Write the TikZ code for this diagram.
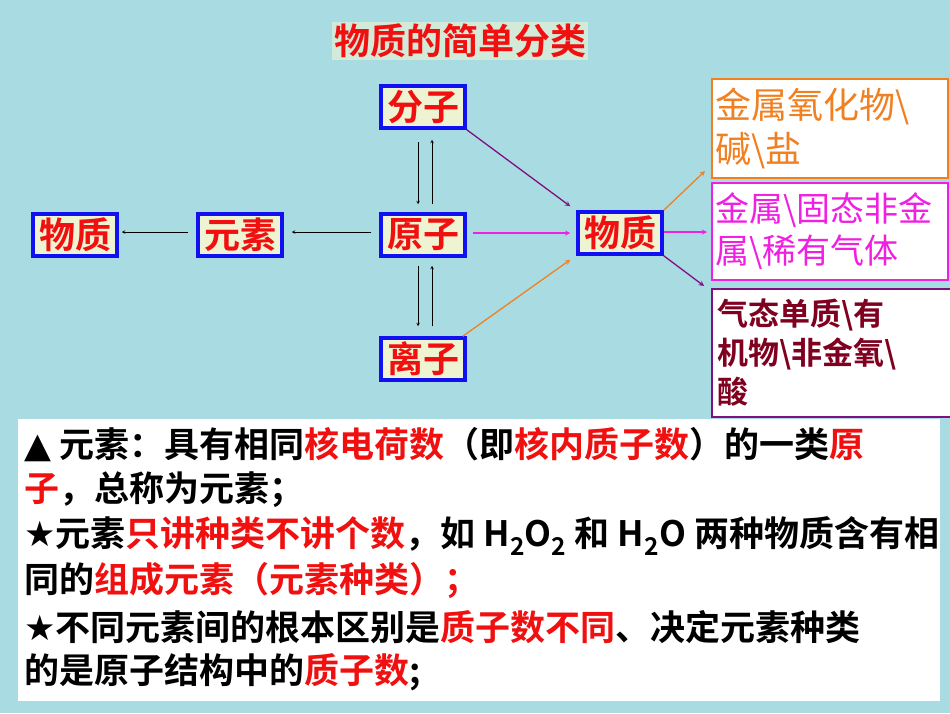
\documentclass[tikz,border=0pt]{standalone}
\usepackage{fontspec}
\newfontfamily\cjk{Noto Sans CJK SC}[BoldFont={Noto Sans CJK SC Bold}]
\newfontfamily\dv{DejaVu Sans}
\definecolor{bgc}{HTML}{A9DCE2}
\definecolor{boxf}{HTML}{EEF3D2}
\definecolor{bblue}{HTML}{1010F0}
\definecolor{tred}{HTML}{F01010}
\definecolor{orng}{HTML}{F08020}
\definecolor{mag}{HTML}{F020E0}
\definecolor{purp}{HTML}{801080}
\definecolor{dred}{HTML}{800020}
\begin{document}
\begin{tikzpicture}[x=1pt,y=-1pt,
 bx/.style={draw=bblue,line width=3.5pt,fill=boxf,minimum width=84pt,minimum height=42pt,inner sep=0pt,font=\cjk\bfseries\fontsize{36}{38}\selectfont,text=tred},
 cbx/.style={fill=white,line width=2pt,minimum width=236pt,text width=230pt,align=left,anchor=north west,inner sep=3pt,font=\cjk\fontsize{36}{44}\selectfont},
 ar/.style={-stealth,line width=0.6pt},
 car/.style={-stealth,line width=1.3pt},
 tl/.style={anchor=west,inner sep=0pt,font=\cjk\bfseries\fontsize{35}{36}\selectfont}]
\fill[bgc] (0,0) rectangle (950,713);
\useasboundingbox (0,0) rectangle (950,713);
\node[fill=boxf!60!bgc,inner sep=2pt,text=tred,font=\cjk\bfseries\fontsize{36}{38}\selectfont] (title) at (460,41) {物质的简单分类};
\node[bx] (fz) at (423,107) {分子};
\node[bx] (wl) at (75,235) {物质};
\node[bx] (ys) at (240,235) {元素};
\node[bx] (yz) at (423,235) {原子};
\node[bx] (wr) at (620,233) {物质};
\node[bx] (lz) at (423,359) {离子};
\node[cbx,draw=orng,text=orng,minimum height=99pt] (b1) at (711,78) {金属氧化物\textbackslash\\碱\textbackslash 盐};
\node[cbx,draw=mag,text=mag,minimum height=97pt,font=\cjk\fontsize{34}{42}\selectfont] (b2) at (711,182) {金属\textbackslash 固态非金\\属\textbackslash 稀有气体};
\node[cbx,draw=purp,text=dred,minimum height=128pt,inner sep=5pt,font=\cjk\bfseries\fontsize{31}{39}\selectfont] (b3) at (711,288) {气态单质\textbackslash 有\\机物\textbackslash 非金氧\textbackslash\\酸};
\draw[ar] ([xshift=-5pt,yshift=-12pt]fz.south) -- ([xshift=-5pt,yshift=8pt]yz.north);
\draw[ar] ([xshift=9pt,yshift=8pt]yz.north) -- ([xshift=9pt,yshift=-10pt]fz.south);
\draw[ar] ([xshift=-5pt,yshift=-8pt]yz.south) -- ([xshift=-5pt,yshift=10pt]lz.north);
\draw[ar] ([xshift=9pt,yshift=10pt]lz.north) -- ([xshift=9pt,yshift=-8pt]yz.south);
\draw[ar] ([xshift=-8pt,yshift=3pt]yz.west) -- ([xshift=8pt,yshift=3pt]ys.east);
\draw[ar] ([xshift=-8pt,yshift=3pt]ys.west) -- ([xshift=3pt,yshift=3pt]wl.east);
\draw[car,mag] ([xshift=6pt,yshift=2pt]yz.east) -- ([xshift=-6pt]wr.west);
\draw[car,purp] (fz.south east) -- ([xshift=-6pt,yshift=4pt]wr.north west);
\draw[car,orng] ([xshift=-4pt]lz.north east) -- ([xshift=-6pt,yshift=-4pt]wr.south west);
\draw[car,orng] (wr.north east) -- ([xshift=-6pt,yshift=8pt]b1.south west);
\draw[car,mag] ([yshift=1pt]wr.east) -- ([xshift=-4pt,yshift=1pt]wr.east -| b2.west);
\draw[car,purp] (wr.south east) -- ([xshift=-7pt,yshift=2pt]b3.north west);
\node[fill=white,minimum width=922pt,minimum height=282pt,anchor=north west,inner sep=0pt] (tb) at (18,419) {};
\node[tl] (l1) at (24,445) {\dv ▲\cjk\ 元素：具有相同\textcolor{tred}{核电荷数}（即\textcolor{tred}{核内质子数}）的一类\textcolor{tred}{原}};
\node[tl] (l2) at (24,490) {\textcolor{tred}{子}，总称为元素；};
\node[tl] (l3) at (24,536) {\dv ★\cjk 元素\textcolor{tred}{只讲种类不讲个数}，如 H\textsubscript{2}O\textsubscript{2} 和 H\textsubscript{2}O 两种物质含有相};
\node[tl] (l4) at (24,581) {同的\textcolor{tred}{组成元素（元素种类）；}};
\node[tl] (l5) at (24,627) {\dv ★\cjk 不同元素间的根本区别是\textcolor{tred}{质子数不同}、决定元素种类};
\node[tl] (l6) at (24,672) {的是原子结构中的\textcolor{tred}{质子数};};
\end{tikzpicture}
\end{document}
